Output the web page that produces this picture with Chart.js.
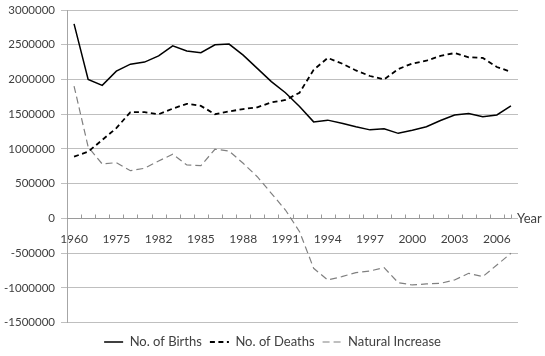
<!DOCTYPE html>
<html>
<head>
<meta charset="utf-8">
<script src="https://cdn.jsdelivr.net/npm/chart.js@4/dist/chart.umd.min.js"></script>
<style>
  html, body { margin: 0; padding: 0; background: #fff; }
  #wrap { width: 545px; height: 356px; position: relative; }
</style>
</head>
<body>
<div id="wrap"><canvas id="c"></canvas></div>
<script>
const years = ['1960','1965','1970','1975','1980','1981','1982','1983','1984','1985','1986','1987','1988','1989','1990','1991','1992','1993','1994','1995','1996','1997','1998','1999','2000','2001','2002','2003','2004','2005','2006','2007'];
const births = [2800000, 2000000, 1915000, 2120000, 2220000, 2250000, 2340000, 2485000, 2410000, 2385000, 2500000, 2510000, 2350000, 2160000, 1970000, 1810000, 1610000, 1390000, 1415000, 1370000, 1320000, 1275000, 1290000, 1225000, 1270000, 1320000, 1410000, 1490000, 1510000, 1465000, 1490000, 1620000];
const deaths = [889000, 961000, 1130000, 1300000, 1530000, 1530000, 1500000, 1580000, 1650000, 1620000, 1500000, 1540000, 1575000, 1600000, 1670000, 1705000, 1810000, 2140000, 2310000, 2230000, 2130000, 2050000, 2000000, 2150000, 2230000, 2270000, 2340000, 2380000, 2320000, 2310000, 2180000, 2110000];
const naturalIncrease = [1906000, 1030000, 784000, 803000, 688000, 722000, 827000, 924000, 770000, 760000, 996000, 971000, 794000, 601000, 362000, 122000, -190000, -717000, -885000, -837000, -780000, -755000, -708000, -924000, -957000, -942000, -933000, -885000, -789000, -837000, -669000, -501000];
const seriesNames = ['No. of Births', 'No. of Deaths', 'Natural Increase'];
const xAxisTitle = 'Year';
const labelEvery = 3;

const FONT = 'Lato, "Open Sans", sans-serif';
Chart.defaults.font.family = FONT;
Chart.defaults.font.size = 11.5;
Chart.defaults.color = '#404040';

const axisDecor = {
  id: 'axisDecor',
  beforeDatasetsDraw(chart) {
    const {ctx, scales: {x, y}} = chart;
    const y0 = Math.round(y.getPixelForValue(0)) + 0.5;
    const n = x.ticks.length;
    const xEnd = x.getPixelForValue(n - 1);
    ctx.save();
    ctx.strokeStyle = '#9a9a9a';
    ctx.lineWidth = 1;
    ctx.beginPath();
    ctx.moveTo(x.left, y0);
    ctx.lineTo(xEnd, y0);
    for (let i = 1; i < n; i++) {
      const px = Math.round((x.getPixelForValue(i - 1) + x.getPixelForValue(i)) / 2) + 0.5;
      ctx.moveTo(px, y0);
      ctx.lineTo(px, y0 - 4);
    }
    ctx.moveTo(Math.round(xEnd) + 0.5, y0);
    ctx.lineTo(Math.round(xEnd) + 0.5, y0 - 4);
    ctx.stroke();
    ctx.fillStyle = '#404040';
    ctx.font = '13px ' + FONT;
    ctx.textBaseline = 'middle';
    ctx.textAlign = 'left';
    ctx.fillText(xAxisTitle, xEnd + 6, y0 + 0.5);
    ctx.restore();
  }
};

new Chart(document.getElementById('c'), {
  type: 'line',
  data: {
    labels: years,
    datasets: [
      { label: seriesNames[0], data: births, borderColor: '#000000', borderWidth: 1.5, pointRadius: 0, tension: 0, fill: false },
      { label: seriesNames[1], data: deaths, borderColor: '#000000', borderWidth: 1.8, borderDash: [5, 3.5], pointRadius: 0, tension: 0, fill: false },
      { label: seriesNames[2], data: naturalIncrease, borderColor: '#808080', borderWidth: 1.2, borderDash: [7, 4], pointRadius: 0, tension: 0, fill: false }
    ]
  },
  options: {
    responsive: true,
    maintainAspectRatio: false,
    animation: false,
    layout: { padding: { left: 0, right: 0, top: 10, bottom: -2.5 } },
    plugins: {
      legend: {
        position: 'bottom',
        title: { display: true, text: '', padding: 0, font: { size: 4 } },
        labels: {
          usePointStyle: true,
          pointStyle: 'line',
          pointStyleWidth: 19,
          boxHeight: 13,
          padding: 8,
          color: '#404040',
          font: { size: 13 },
          generateLabels(chart) {
            const items = Chart.defaults.plugins.legend.labels.generateLabels(chart);
            items.forEach(it => {
              const ds = chart.data.datasets[it.datasetIndex];
              it.lineDash = ds.borderDash || [];
              it.lineWidth = ds.borderWidth;
              it.strokeStyle = ds.borderColor;
            });
            return items;
          }
        }
      },
      tooltip: { enabled: false }
    },
    scales: {
      x: {
        type: 'category',
        position: { y: 0 },
        offset: true,
        grid: { display: false, drawTicks: false },
        border: { display: false },
        ticks: {
          autoSkip: false,
          maxRotation: 0,
          minRotation: 0,
          padding: 13,
          color: '#404040',
          font: { size: 12 },
          callback: function(val, idx) { return idx % labelEvery === 0 ? years[idx] : ''; }
        }
      },
      y: {
        min: -1500000,
        max: 3000000,
        afterFit(scale) { scale.width = 67; scale.paddingTop = 0; scale.paddingBottom = 0; },
        grid: { color: '#bfbfbf', lineWidth: 1, tickLength: 6 },
        border: { display: true, color: '#a6a6a6' },
        ticks: {
          stepSize: 500000,
          padding: 6,
          color: '#404040',
          callback: function(v) { return String(v); }
        }
      },
      yRight: {
        position: 'right',
        min: -1500000,
        max: 3000000,
        afterFit(scale) { scale.width = 27; scale.paddingTop = 0; scale.paddingBottom = 0; },
        grid: { display: false, drawTicks: false },
        border: { display: false },
        ticks: { display: false }
      }
    }
  },
  plugins: [axisDecor]
});
</script>
</body>
</html>
